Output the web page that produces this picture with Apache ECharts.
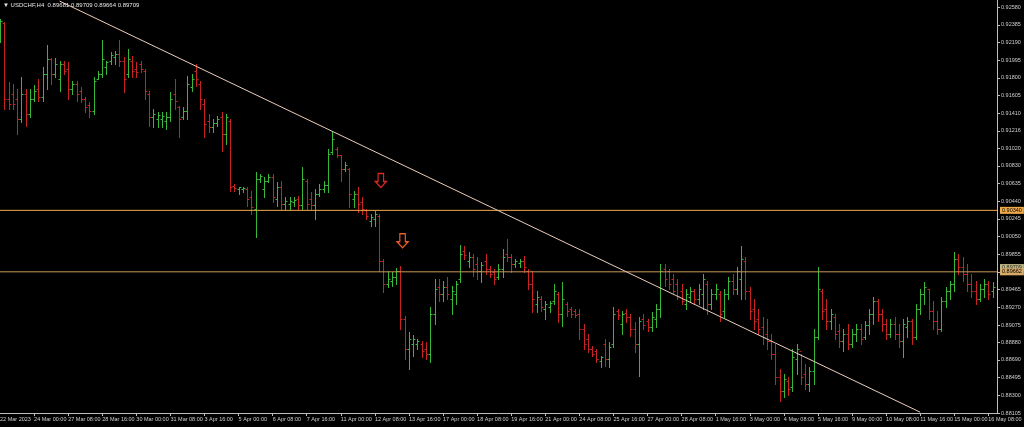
<!DOCTYPE html>
<html><head><meta charset="utf-8">
<script src="https://cdn.jsdelivr.net/npm/echarts@6/dist/echarts.min.js"></script>
<style>html,body{margin:0;padding:0;background:#000;}#c{width:1024px;height:427px;}</style>
</head><body><div id="c"></div>
<script>
const titleText = '\u25BC USDCHF,H4  0.89681 0.89709 0.89664 0.89709';
const xTickLabels = ['22 Mar 2023','24 Mar 00:00','27 Mar 08:00','28 Mar 16:00','30 Mar 00:00','31 Mar 08:00','3 Apr 16:00','5 Apr 00:00','6 Apr 08:00','7 Apr 16:00','11 Apr 00:00','12 Apr 08:00','13 Apr 16:00','17 Apr 00:00','18 Apr 08:00','19 Apr 16:00','21 Apr 00:00','24 Apr 08:00','25 Apr 16:00','27 Apr 00:00','28 Apr 08:00','1 May 16:00','3 May 00:00','4 May 08:00','5 May 16:00','9 May 00:00','10 May 08:00','11 May 16:00','15 May 00:00','16 May 08:00'];
const barsPerLabel = 8;
const yTickValues = [0.92580,0.92385,0.92190,0.91995,0.91800,0.91605,0.91410,0.91216,0.91020,0.90830,0.90635,0.90440,0.90245,0.90050,0.89855,0.89660,0.89465,0.89270,0.89075,0.88880,0.88690,0.88495,0.88300,0.88105];

const opens = [0.92227,0.92403,0.91566,0.91621,0.91566,0.91345,0.91621,0.91400,0.91566,0.91676,0.91588,0.91841,0.92007,0.91841,0.91786,0.91952,0.91896,0.91676,0.91731,0.91654,0.91566,0.91500,0.91433,0.91786,0.91841,0.91918,0.91985,0.92029,0.92062,0.91985,0.91841,0.91985,0.91896,0.91952,0.91874,0.91621,0.91367,0.91345,0.91345,0.91323,0.91367,0.91621,0.91478,0.91367,0.91433,0.91698,0.91874,0.91731,0.91511,0.91323,0.91257,0.91301,0.91367,0.91180,0.91323,0.90607,0.90574,0.90574,0.90574,0.90486,0.90353,0.90684,0.90574,0.90662,0.90706,0.90463,0.90596,0.90408,0.90408,0.90430,0.90463,0.90397,0.90662,0.90463,0.90397,0.90519,0.90574,0.90618,0.90981,0.91015,0.90948,0.90794,0.90794,0.90463,0.90519,0.90430,0.90342,0.90221,0.90243,0.90276,0.89780,0.89527,0.89560,0.89604,0.89670,0.89141,0.88810,0.88865,0.88865,0.88865,0.88810,0.88755,0.89196,0.89493,0.89416,0.89493,0.89361,0.89416,0.89582,0.89891,0.89780,0.89824,0.89747,0.89670,0.89780,0.89692,0.89659,0.89604,0.89692,0.89858,0.89824,0.89747,0.89758,0.89780,0.89670,0.89527,0.89306,0.89361,0.89251,0.89273,0.89339,0.89416,0.89196,0.89306,0.89251,0.89229,0.89196,0.89030,0.88920,0.88810,0.88788,0.88678,0.88865,0.88700,0.88865,0.89229,0.89086,0.89207,0.89163,0.89030,0.88865,0.89141,0.89119,0.89053,0.89141,0.89251,0.89692,0.89670,0.89582,0.89527,0.89449,0.89306,0.89383,0.89449,0.89361,0.89416,0.89527,0.89306,0.89416,0.89416,0.89229,0.89416,0.89560,0.89471,0.89582,0.89780,0.89449,0.89251,0.89141,0.89053,0.88975,0.88898,0.88755,0.88501,0.88347,0.88457,0.88391,0.88700,0.88788,0.88534,0.88424,0.88568,0.88942,0.89449,0.89251,0.89119,0.89163,0.89008,0.88898,0.88975,0.88865,0.88975,0.89030,0.88942,0.89075,0.89196,0.89339,0.89196,0.89086,0.88975,0.89086,0.88975,0.88898,0.89053,0.89119,0.88942,0.89251,0.89416,0.89471,0.89229,0.89119,0.89030,0.89339,0.89449,0.89527,0.89802,0.89714,0.89637,0.89527,0.89449,0.89361,0.89471,0.89527,0.89449];
const highs = [0.92448,0.92414,0.91753,0.91731,0.91676,0.91808,0.91676,0.91676,0.91720,0.91786,0.91918,0.92161,0.92018,0.92018,0.91985,0.91985,0.91974,0.91764,0.91764,0.91698,0.91588,0.91533,0.91808,0.91874,0.92216,0.91985,0.92084,0.92095,0.92216,0.92029,0.92117,0.92040,0.91974,0.91985,0.91896,0.91654,0.91455,0.91422,0.91422,0.91422,0.91643,0.91786,0.91489,0.91478,0.91819,0.91841,0.91952,0.91764,0.91566,0.91400,0.91345,0.91378,0.91422,0.91400,0.91345,0.90629,0.90596,0.90596,0.90596,0.90552,0.90761,0.90739,0.90706,0.90739,0.90739,0.90651,0.90662,0.90486,0.90486,0.90486,0.90497,0.90816,0.90684,0.90541,0.90574,0.90629,0.90662,0.91015,0.91202,0.91037,0.90948,0.90871,0.90805,0.90552,0.90596,0.90486,0.90353,0.90298,0.90331,0.90298,0.89802,0.89670,0.89659,0.89703,0.89725,0.89174,0.88997,0.88964,0.88920,0.88898,0.88887,0.89273,0.89582,0.89582,0.89560,0.89604,0.89505,0.89560,0.89957,0.89946,0.89880,0.89858,0.89824,0.89769,0.89858,0.89725,0.89692,0.89747,0.89912,0.90023,0.89858,0.89802,0.89802,0.89835,0.89692,0.89670,0.89449,0.89394,0.89339,0.89339,0.89527,0.89438,0.89549,0.89328,0.89273,0.89251,0.89251,0.89086,0.88975,0.88843,0.88810,0.88733,0.88920,0.88887,0.89273,0.89251,0.89229,0.89251,0.89196,0.89108,0.89163,0.89196,0.89141,0.89218,0.89306,0.89747,0.89747,0.89692,0.89637,0.89582,0.89527,0.89471,0.89493,0.89471,0.89527,0.89637,0.89560,0.89471,0.89527,0.89449,0.89471,0.89604,0.89637,0.89714,0.89946,0.89824,0.89493,0.89361,0.89251,0.89163,0.89141,0.88975,0.88865,0.88590,0.88534,0.88501,0.88810,0.88865,0.88755,0.88645,0.88612,0.89030,0.89714,0.89471,0.89361,0.89251,0.89196,0.89086,0.89030,0.89086,0.89030,0.89086,0.89086,0.89119,0.89251,0.89383,0.89361,0.89251,0.89141,0.89141,0.89163,0.89086,0.89141,0.89163,0.89141,0.89306,0.89471,0.89549,0.89471,0.89339,0.89229,0.89383,0.89493,0.89560,0.89880,0.89858,0.89824,0.89747,0.89637,0.89560,0.89527,0.89582,0.89560,0.89549];
const lows = [0.92194,0.91455,0.91455,0.91455,0.91180,0.91312,0.91268,0.91367,0.91544,0.91544,0.91544,0.91676,0.91731,0.91808,0.91654,0.91841,0.91566,0.91621,0.91544,0.91533,0.91422,0.91367,0.91400,0.91786,0.91808,0.91841,0.91952,0.91952,0.91930,0.91643,0.91808,0.91808,0.91808,0.91863,0.91566,0.91268,0.91257,0.91257,0.91257,0.91235,0.91323,0.91455,0.91147,0.91345,0.91345,0.91654,0.91709,0.91455,0.91147,0.91202,0.91202,0.91268,0.90993,0.91070,0.90552,0.90552,0.90519,0.90541,0.90386,0.90298,0.90045,0.90651,0.90486,0.90651,0.90430,0.90386,0.90353,0.90353,0.90353,0.90386,0.90353,0.90353,0.90353,0.90353,0.90243,0.90497,0.90541,0.90541,0.90959,0.90926,0.90662,0.90772,0.90375,0.90375,0.90320,0.90298,0.90243,0.90166,0.90166,0.89670,0.89438,0.89494,0.89505,0.89527,0.89030,0.88700,0.88590,0.88733,0.88810,0.88722,0.88700,0.88667,0.89086,0.89339,0.89339,0.89361,0.89196,0.89306,0.89549,0.89802,0.89714,0.89615,0.89582,0.89549,0.89637,0.89604,0.89527,0.89582,0.89604,0.89780,0.89659,0.89714,0.89714,0.89659,0.89471,0.89218,0.89218,0.89229,0.89141,0.89218,0.89306,0.89108,0.89064,0.89174,0.89163,0.89163,0.88920,0.88810,0.88777,0.88733,0.88667,0.88612,0.88623,0.88612,0.88832,0.89141,0.88975,0.89108,0.88953,0.88777,0.88512,0.89030,0.89008,0.89008,0.89053,0.89163,0.89505,0.89471,0.89416,0.89361,0.89306,0.89251,0.89339,0.89306,0.89306,0.89251,0.89196,0.89251,0.89361,0.89119,0.89163,0.89361,0.89416,0.89416,0.89361,0.89361,0.89141,0.89030,0.88975,0.88865,0.88810,0.88700,0.88424,0.88237,0.88281,0.88303,0.88347,0.88534,0.88424,0.88369,0.88347,0.88424,0.88920,0.89141,0.89030,0.89030,0.88920,0.88832,0.88788,0.88810,0.88832,0.88898,0.88865,0.88920,0.88975,0.89086,0.89119,0.89008,0.88920,0.88942,0.88920,0.88832,0.88722,0.88942,0.88865,0.88920,0.89196,0.89306,0.89141,0.89030,0.88975,0.89008,0.89273,0.89361,0.89449,0.89637,0.89560,0.89449,0.89383,0.89306,0.89339,0.89383,0.89361,0.89383];
const closes = [0.92425,0.91566,0.91511,0.91511,0.91345,0.91621,0.91400,0.91566,0.91654,0.91588,0.91841,0.92007,0.91841,0.91952,0.91952,0.91874,0.91676,0.91731,0.91621,0.91566,0.91478,0.91433,0.91764,0.91841,0.92007,0.91974,0.92051,0.92062,0.91985,0.91786,0.92007,0.91874,0.91863,0.91896,0.91654,0.91367,0.91400,0.91389,0.91378,0.91367,0.91566,0.91544,0.91345,0.91433,0.91731,0.91786,0.91786,0.91566,0.91290,0.91257,0.91301,0.91345,0.91180,0.91367,0.90596,0.90585,0.90596,0.90585,0.90463,0.90375,0.90684,0.90717,0.90662,0.90706,0.90486,0.90596,0.90408,0.90441,0.90441,0.90452,0.90397,0.90684,0.90408,0.90397,0.90519,0.90574,0.90618,0.90959,0.91125,0.90948,0.90794,0.90838,0.90519,0.90519,0.90408,0.90353,0.90276,0.90265,0.90298,0.89780,0.89527,0.89582,0.89604,0.89670,0.89141,0.88810,0.88920,0.88920,0.88898,0.88788,0.88755,0.89196,0.89471,0.89416,0.89493,0.89416,0.89449,0.89527,0.89858,0.89847,0.89824,0.89692,0.89670,0.89736,0.89692,0.89637,0.89582,0.89692,0.89824,0.89824,0.89747,0.89780,0.89780,0.89714,0.89527,0.89361,0.89383,0.89273,0.89306,0.89317,0.89449,0.89196,0.89361,0.89229,0.89196,0.89185,0.89030,0.88865,0.88810,0.88755,0.88700,0.88722,0.88700,0.88832,0.89196,0.89185,0.89196,0.89163,0.89030,0.88865,0.89119,0.89075,0.89053,0.89163,0.89251,0.89670,0.89582,0.89527,0.89449,0.89394,0.89339,0.89416,0.89449,0.89361,0.89471,0.89582,0.89306,0.89416,0.89471,0.89196,0.89416,0.89560,0.89471,0.89670,0.89802,0.89449,0.89229,0.89119,0.89030,0.88942,0.88898,0.88755,0.88501,0.88347,0.88479,0.88369,0.88722,0.88810,0.88501,0.88424,0.88568,0.88942,0.89471,0.89229,0.89119,0.89196,0.88975,0.88898,0.88975,0.88865,0.88975,0.89030,0.88920,0.89075,0.89196,0.89339,0.89196,0.89086,0.88975,0.89086,0.88975,0.88898,0.89086,0.89119,0.88942,0.89251,0.89416,0.89493,0.89229,0.89119,0.89030,0.89339,0.89449,0.89527,0.89802,0.89714,0.89637,0.89527,0.89449,0.89361,0.89471,0.89527,0.89416,0.89493];

const levels = [0.90340, 0.89662];
const levelLabels = ['0.90340', '0.89662'];
const bidPrice = 0.89709;
const bidLabel = '0.89709';
const trendLine = [[14, 0.92648], [216, 0.88114]];
const arrowPoints = [[89.4, 0.90669], [94.5, 0.90004]];

const X_MIN = 0, X_MAX = 234.04;
const tickIdx = xTickLabels.map((_, k) => k * barsPerLabel);
const ohlc = opens.map((o, i) => [i, o, highs[i], lows[i], closes[i]]);

const UP = '#36b936', DOWN = '#c92222';
const FONT = '"Liberation Sans", Arial, sans-serif';
const AXIS = '#bdbdbd', TXT = '#cfcfcf';
const levelColors = ['#f0a948', '#c9985a'];
const levelBg = ['#f0a948', '#d9ab68'];

function levelSeries(k) {
  return {
    type: 'line', name: 'level' + k, data: [[X_MIN, levels[k]], [X_MAX, levels[k]]],
    symbol: 'none', silent: true, z: 3 + k, clip: false,
    lineStyle: {color: levelColors[k], width: 1},
    endLabel: {show: true, formatter: levelLabels[k], color: '#000', backgroundColor: levelBg[k],
      fontSize: 5.5, fontFamily: FONT, padding: [1, 2, 0, 2], distance: 3}
  };
}

const chart = echarts.init(document.getElementById('c'), null, {renderer: 'canvas'});
chart.setOption({
  backgroundColor: '#000000',
  animation: false,
  graphic: [{type: 'text', left: 3, top: 2, z: 100,
    style: {text: titleText, fill: '#e6e6e6', font: '6px ' + FONT}}],
  grid: {left: 0, right: 27, top: 0, bottom: 14, containLabel: false, outerBoundsMode: 'none'},
  xAxis: {
    type: 'value', min: X_MIN, max: X_MAX,
    axisLine: {show: true, onZero: false, lineStyle: {color: AXIS, width: 1}},
    axisTick: {show: true, length: 3, customValues: tickIdx.slice(1), lineStyle: {color: AXIS}},
    axisLabel: {show: true, customValues: tickIdx, formatter: (v) => xTickLabels[Math.round(Number(v) / barsPerLabel)] || '',
      align: 'left', color: TXT, fontSize: 5.5, fontFamily: FONT, margin: 3},
    splitLine: {show: false}
  },
  yAxis: {
    type: 'value', position: 'right', min: 0.88105, max: 0.92660, scale: true,
    axisLine: {show: true, onZero: false, lineStyle: {color: AXIS, width: 1}},
    axisTick: {show: true, length: 3, customValues: yTickValues, lineStyle: {color: AXIS}},
    axisLabel: {show: true, customValues: yTickValues, formatter: (v) => Number(v).toFixed(5), color: TXT, fontSize: 5.5, fontFamily: FONT, margin: 4},
    splitLine: {show: false}
  },
  series: [
    {
      type: 'custom', name: 'USDCHF', data: ohlc, encode: {x: 0, y: [1, 2, 3, 4]}, z: 2,
      renderItem: function (params, api) {
        const i = api.value(0), o = api.value(1), h = api.value(2), l = api.value(3), c = api.value(4);
        const pH = api.coord([i, h]), pL = api.coord([i, l]), pO = api.coord([i, o]), pC = api.coord([i, c]);
        const x = Math.round(pH[0]) + 0.5;
        const col = c >= o ? UP : DOWN;
        const st = {stroke: col, lineWidth: 1};
        return {type: 'group', children: [
          {type: 'line', shape: {x1: x, y1: Math.round(pH[1]), x2: x, y2: Math.round(pL[1]) + 1}, style: st},
          {type: 'line', shape: {x1: x - 2, y1: Math.round(pO[1]) + 0.5, x2: x, y2: Math.round(pO[1]) + 0.5}, style: st},
          {type: 'line', shape: {x1: x, y1: Math.round(pC[1]) + 0.5, x2: x + 2, y2: Math.round(pC[1]) + 0.5}, style: st}
        ]};
      }
    },
    {
      type: 'scatter', name: 'bid', data: [[X_MAX, bidPrice]], symbolSize: 0, silent: true, z: 3, clip: false,
      label: {show: true, position: 'right', distance: 3, formatter: bidLabel, color: '#000', backgroundColor: '#efe3a8',
        fontSize: 5.5, fontFamily: FONT, padding: [1, 2, 0, 2]}
    },
    levelSeries(0),
    levelSeries(1),
    {
      type: 'line', name: 'trend', data: trendLine, symbol: 'none', silent: true, z: 5,
      lineStyle: {color: '#e9cdbd', width: 1},
      markPoint: {
        silent: true, symbol: 'path://M3,0H9V8H12L6,14L0,8H3Z', symbolSize: [11, 14],
        label: {show: false},
        data: [
          {coord: arrowPoints[0], itemStyle: {color: '#000', borderColor: '#e02820', borderWidth: 1.3}},
          {coord: arrowPoints[1], itemStyle: {color: '#000', borderColor: '#ef5a2a', borderWidth: 1.3}}
        ]
      }
    }
  ]
});
</script>
</body></html>
